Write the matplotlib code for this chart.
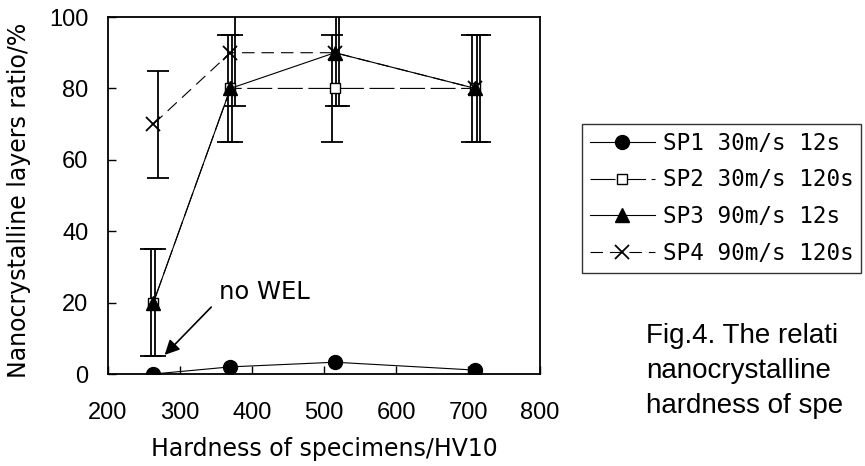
import numpy as np
import matplotlib
matplotlib.use("Agg")
import matplotlib.pyplot as plt

plt.rcParams['lines.scale_dashes'] = False

# Datos
dureza = [263, 370, 515, 710]
sp1 = [0, 2, 3.3, 1.1]
sp2 = [20, 80, 80, 80]
sp3 = [20, 80, 90, 80]
sp4 = [70, 90, 90, 80]
err_sp2 = [15, 15, 15, 15]
err_sp3 = [15, 15, 15, 15]
err_sp4 = [15, 15, 15, 15]

etiquetas = ['SP1 30m/s 12s', 'SP2 30m/s 120s', 'SP3 90m/s 12s', 'SP4 90m/s 120s']
xticks = [200, 300, 400, 500, 600, 700, 800]
yticks = [0, 20, 40, 60, 80, 100]

fig = plt.figure(figsize=(8.65, 4.66), dpi=100)
ax = fig.add_axes([0.1249, 0.1974, 0.4994, 0.7661])

x = np.array(dureza, dtype=float)

# Barras de error (ligeramente desplazadas, como en el original)
for y, e, dx in [(sp2, err_sp2, -4), (sp3, err_sp3, 2), (sp4, err_sp4, 6)]:
    ax.errorbar(x + dx, y, yerr=e, fmt='none', ecolor='k', elinewidth=1.3,
                capsize=8, capthick=1.3, zorder=2)

lw = 0.8
ax.plot(x, sp1, color='k', lw=lw, marker='o', ms=10, mfc='k', label=etiquetas[0], zorder=4)
ax.plot(x, sp2, color='k', lw=lw, ls=(0, (18, 4)), marker='s', ms=7, mfc='white',
        mew=1, label=etiquetas[1], zorder=3)
ax.plot(x, sp3, color='k', lw=lw, marker='^', ms=10, mfc='k', label=etiquetas[2], zorder=4)
ax.plot(x, sp4, color='k', lw=lw, ls=(0, (9, 5)), marker='x', ms=10, mew=1.3,
        label=etiquetas[3], zorder=4)

ax.set_xlim(200, 800)
ax.set_ylim(0, 100)
ax.set_xticks(xticks)
ax.set_yticks(yticks)
ax.tick_params(axis='both', direction='in', length=6, width=1, labelsize=17,
               top=False, right=False)
ax.tick_params(axis='x', pad=20)
ax.tick_params(axis='y', pad=14)
for lab in ax.get_xticklabels() + ax.get_yticklabels():
    lab.set_family('Liberation Sans')
for s in ax.spines.values():
    s.set_linewidth(1.3)

ax.set_xlabel('Hardness of specimens/HV10', family='DejaVu Sans', fontsize=17,
              ha='center', va='center')
ax.xaxis.set_label_coords(0.5, -0.21)
ax.set_ylabel('Nanocrystalline layers ratio/%', family='DejaVu Sans', fontsize=17,
              ha='center', va='center')
ax.yaxis.set_label_coords(-0.206, 0.485)

# Anotación "no WEL"
ax.text(354, 23, 'no WEL', family='DejaVu Sans', fontsize=17.5, ha='left', va='center')
ax.annotate('', xy=(276, 4.8), xytext=(346, 19.3),
            arrowprops=dict(arrowstyle='-|>', color='k', lw=1.2, mutation_scale=22))

leg = fig.legend(loc='upper left', bbox_to_anchor=(0.673, 0.734), borderaxespad=0,
                 prop={'family': 'DejaVu Sans Mono', 'size': 16.3}, frameon=True,
                 fancybox=False, edgecolor='k', handlelength=2.85, handletextpad=0.35,
                 labelspacing=0.6, borderpad=0.35)
leg.get_frame().set_linewidth(1)

# Pie de figura (recortado por el borde derecho, como en la imagen)
for i, linea in enumerate(['Fig.4. The relati', 'nanocrystalline', 'hardness of spe']):
    fig.text(646 / 865, 1 - (343 + 35 * i) / 466, linea, family='Liberation Sans',
             fontsize=20, ha='left', va='baseline')

fig.savefig('out.png', dpi=100)
